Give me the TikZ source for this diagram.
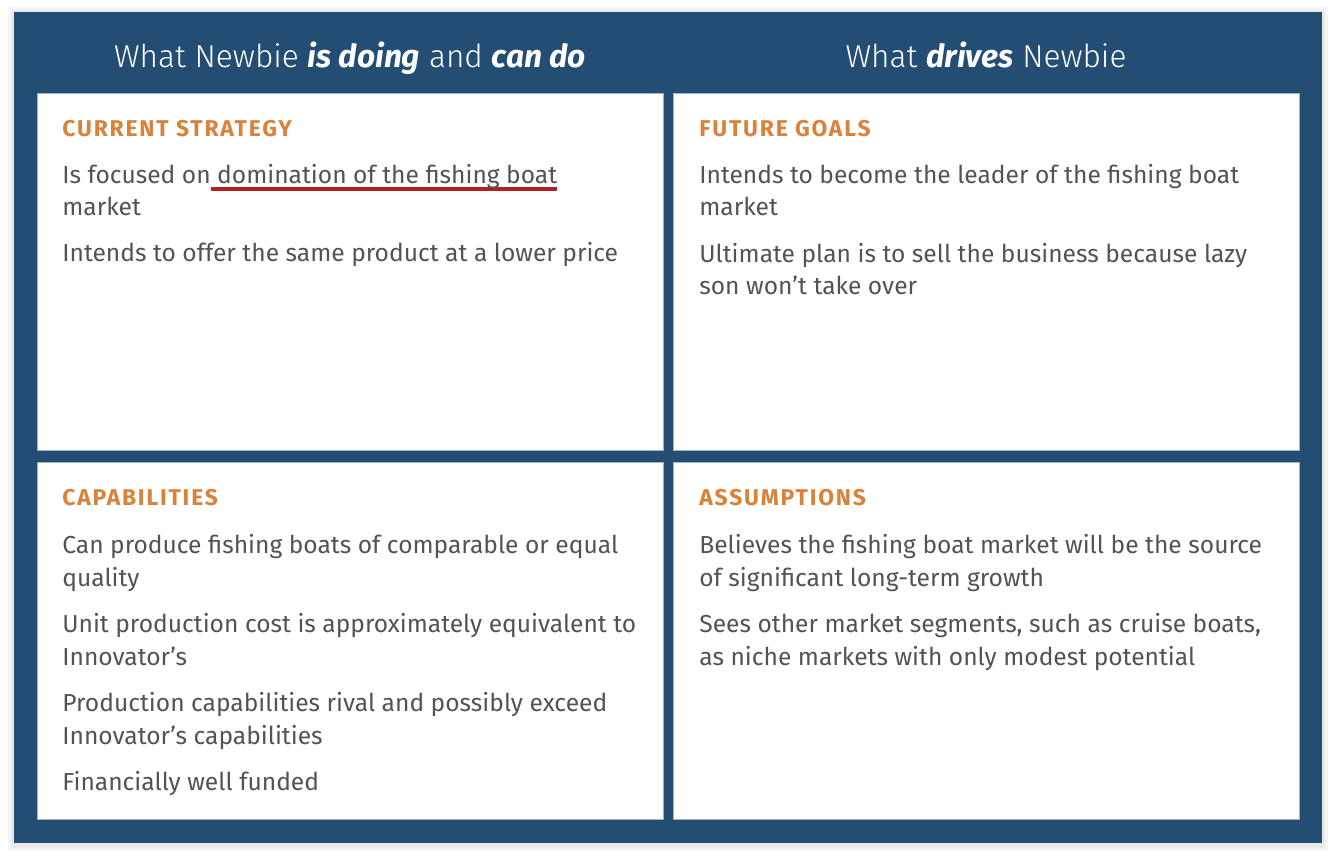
\documentclass[tikz,border=0pt]{standalone}
\usepackage{fontspec}
\setmainfont{Fira Sans}
\newfontfamily\lightface{Fira Sans Light}[BoldItalicFont={Fira Sans Bold Italic}]
\usepackage{xcolor}
\definecolor{frameblue}{HTML}{234D73}
\definecolor{headorange}{HTML}{D9823B}
\definecolor{bodygray}{HTML}{4F5458}
\definecolor{markred}{HTML}{B02222}
\definecolor{panelrim}{HTML}{9FB1C4}
\newsavebox\markbox
\newcommand\redmark[1]{\sbox\markbox{#1}\rlap{\color{markred}\rule[-4.6pt]{\wd\markbox}{2.3pt}}\usebox\markbox}
\newcommand\titlefont{\lightface\fontsize{18}{22}\selectfont}
\newcommand\headfont{\bfseries\fontsize{13}{15}\selectfont\addfontfeatures{LetterSpace=8}}
\newcommand\bodyfont{\fontsize{14}{18.7}\selectfont}

\begin{document}
\begin{tikzpicture}[x=0.02cm,y=-0.02cm,
    panel/.style={fill=white,draw=panelrim,line width=0.3pt},
    coltitle/.style={anchor=base,text=white,font=\titlefont,inner sep=0pt},
    heading/.style={anchor=base west,text=headorange,font=\headfont,inner sep=0pt},
    entry/.style={anchor=base west,text=bodygray,font=\bodyfont,align=left,inner sep=0pt}]
    \useasboundingbox (0,0) rectangle (1334,857);
    % soft shadow and frame
    \fill [black,opacity=0.04] (8,7) rectangle (1328,851);
    \fill [black,opacity=0.05] (11,10) rectangle (1325,848);
    \fill [frameblue] (14,12) rectangle (1322,843);
    \draw [panel] (37,93) rectangle (663,450);
    \draw [panel] (673,93) rectangle (1299,450);
    \draw [panel] (37,462) rectangle (663,819);
    \draw [panel] (673,462) rectangle (1299,819);
    % column titles (base = last line)
    \node [coltitle] (doing) at (350,68) {What Newbie \textbf{\textit{is doing}} and \textbf{\textit{can do}}};
    \node [coltitle] (drives) at (986,68) {What \textbf{\textit{drives}} Newbie};
    % current strategy
    \node [heading] (strategy) at (62,137) {CURRENT STRATEGY};
    \node [entry] (strategyA) at (62,216) {Is focused on\redmark{ domination of the fishing boat}\\market};
    \node [entry] (strategyB) at (62,262) {Intends to offer the same product at a lower price};
    % future goals
    \node [heading] (goals) at (699,137) {FUTURE GOALS};
    \node [entry] (goalsA) at (699,216) {Intends to become the leader of the fishing boat\\market};
    \node [entry] (goalsB) at (699,295) {Ultimate plan is to sell the business because lazy\\son won’t take over};
    % capabilities
    \node [heading] (capable) at (62,505) {CAPABILITIES};
    \node [entry] (capableA) at (62,586) {Can produce fishing boats of comparable or equal\\quality};
    \node [entry] (capableB) at (62,665) {Unit production cost is approximately equivalent to\\Innovator’s};
    \node [entry] (capableC) at (62,744) {Production capabilities rival and possibly exceed\\Innovator’s capabilities};
    \node [entry] (capableD) at (62,790) {Financially well funded};
    % assumptions
    \node [heading] (assume) at (699,505) {ASSUMPTIONS};
    \node [entry] (assumeA) at (699,586) {Believes the fishing boat market will be the source\\of significant long-term growth};
    \node [entry] (assumeB) at (699,665) {Sees other market segments, such as cruise boats,\\as niche markets with only modest potential};
\end{tikzpicture}
\end{document}
